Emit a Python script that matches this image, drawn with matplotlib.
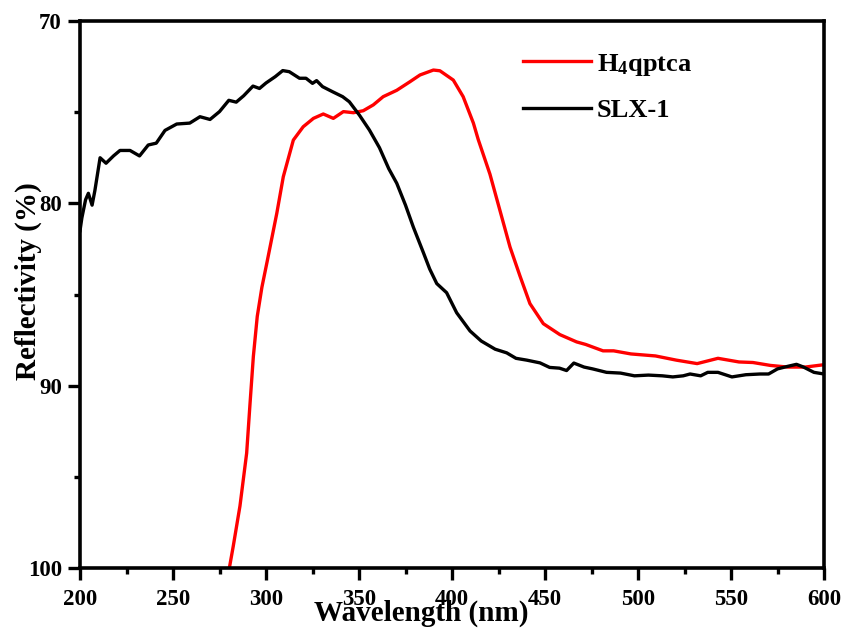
import matplotlib
matplotlib.use("Agg")
import matplotlib.pyplot as plt
from matplotlib.ticker import MultipleLocator

plt.rcParams['font.family'] = ['Liberation Serif', 'DejaVu Serif']
plt.rcParams['font.weight'] = 'bold'
plt.rcParams['mathtext.fontset'] = 'custom'
plt.rcParams['mathtext.rm'] = 'Liberation Serif:bold'
plt.rcParams['mathtext.bf'] = 'Liberation Serif:bold'
plt.rcParams['mathtext.it'] = 'Liberation Serif:bold'

# Data
slx_x = [200, 201, 203, 204.5, 206.5, 208, 210.8, 214, 218, 221.5, 226.9, 232, 236.7, 241, 245.7,
         252, 259, 264.5, 269.9, 275, 280, 284, 288, 293, 296.5, 300, 305, 309, 312.5, 318, 321.5,
         325, 327.2, 330.4, 335.8, 341.2, 344.8, 350.2, 355.6, 361, 366, 370.3, 375, 379.2, 384.6,
         388, 391.8, 397.1, 402.5, 409.7, 415.7, 423.2, 429.4, 434.4, 440.2, 447.3, 452.5, 457.8,
         461.6, 465.5, 471, 475.6, 483.1, 490.6, 498.1, 505.6, 513.1, 518.7, 524.3, 528, 533.7,
         537.5, 543, 550.5, 558, 565.6, 570.2, 575, 580.5, 585.2, 589, 594.6, 600]
slx_y = [81.5, 80.8, 79.8, 79.45, 80.1, 79.3, 77.5, 77.8, 77.4, 77.1, 77.1, 77.4, 76.8, 76.7, 76.0,
         75.65, 75.6, 75.25, 75.4, 74.97, 74.35, 74.45, 74.1, 73.57, 73.7, 73.4, 73.05, 72.72, 72.78,
         73.14, 73.14, 73.42, 73.27, 73.6, 73.88, 74.15, 74.43, 75.16, 75.98, 76.95, 78.1, 78.9, 80.1,
         81.3, 82.7, 83.6, 84.4, 84.9, 86.0, 87.0, 87.55, 88.0, 88.2, 88.5, 88.6, 88.75, 89.0, 89.04,
         89.17, 88.76, 88.98, 89.08, 89.27, 89.31, 89.46, 89.42, 89.46, 89.52, 89.46, 89.36, 89.46,
         89.27, 89.27, 89.52, 89.4, 89.36, 89.36, 89.08, 88.94, 88.83, 88.98, 89.27, 89.36]

h4_x = [280.3, 282.4, 286, 289.6, 291.4, 293.2, 295.3, 297.8, 300.6, 305.8, 309.3, 314.7, 320, 325.5,
        330.8, 336.2, 341.6, 347, 352.3, 357.7, 363, 370.3, 377.4, 382.8, 390, 393.5, 400.7, 406,
        411.5, 414.1, 420.4, 425.8, 431.2, 436.6, 441.9, 449.1, 458, 467, 471.9, 481.2, 486.9, 496.2,
        509.4, 520.6, 531.8, 543, 554.3, 561.8, 571.2, 580.5, 589.9, 600]
h4_y = [100, 98.8, 96.6, 93.7, 91.0, 88.4, 86.2, 84.6, 83.2, 80.55, 78.54, 76.53, 75.8, 75.34,
        75.1, 75.34, 74.97, 75.03, 74.92, 74.6, 74.15, 73.8, 73.33, 72.96, 72.69, 72.73, 73.24, 74.15,
        75.6, 76.5, 78.4, 80.4, 82.4, 84.0, 85.5, 86.6, 87.2, 87.6, 87.74, 88.09, 88.09, 88.26,
        88.37, 88.6, 88.79, 88.5, 88.7, 88.73, 88.89, 88.98, 88.98, 88.85]

x_ticks = [200, 250, 300, 350, 400, 450, 500, 550, 600]
y_ticks = [70, 80, 90, 100]

fig = plt.figure(figsize=(8.46, 6.37), dpi=100)
ax = fig.add_axes([80/846, 1 - 568/637, 744/846, 547/637])

ax.plot(h4_x, h4_y, color='#ff0000', lw=2.4, label=r'H$_4$qptca')
ax.plot(slx_x, slx_y, color='black', lw=2.4, label='SLX-1')

ax.set_xlim(200, 600)
ax.set_ylim(100, 70)
ax.set_xticks(x_ticks)
ax.set_yticks(y_ticks)
ax.xaxis.set_minor_locator(MultipleLocator(25))
ax.yaxis.set_minor_locator(MultipleLocator(5))
ax.tick_params(which='major', direction='out', length=8.5, width=2.4, labelsize=16.5, pad=4.5)
ax.tick_params(axis='x', which='major', pad=6.5)
ax.tick_params(which='minor', direction='out', length=4.5, width=2.4)
for s in ax.spines.values():
    s.set_linewidth(2.6)

ax.set_xlabel('Wavelength (nm)', fontsize=21, fontweight='bold')
ax.set_ylabel('Reflectivity (%)', fontsize=21, fontweight='bold')
ax.xaxis.set_label_coords(0.458, -0.058)
ax.yaxis.set_label_coords(-0.051, 0.525)

leg = ax.legend(loc='upper left', bbox_to_anchor=(0.595, 0.944), frameon=False,
                fontsize=19, handlelength=2.6, handletextpad=0.2, labelspacing=0.8,
                borderpad=0, borderaxespad=0)

fig.savefig('out.png', dpi=100)
